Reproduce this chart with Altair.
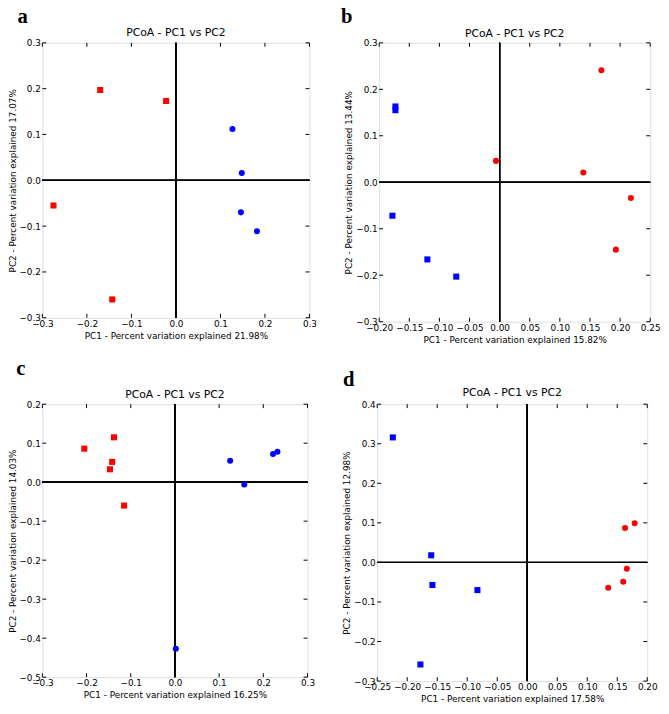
import altair as alt
import pandas as pd

# ---------------- data ----------------
a_sq_x = [-0.170, -0.022, -0.275, -0.143]
a_sq_y = [0.197, 0.173, -0.055, -0.260]
a_ci_x = [0.127, 0.148, 0.146, 0.182]
a_ci_y = [0.112, 0.016, -0.070, -0.111]

b_sq_x = [-0.173, -0.173, -0.178, -0.120, -0.072]
b_sq_y = [0.163, 0.155, -0.072, -0.166, -0.203]
b_ci_x = [-0.006, 0.139, 0.169, 0.218, 0.193]
b_ci_y = [0.046, 0.021, 0.241, -0.034, -0.145]

c_sq_x = [-0.205, -0.138, -0.142, -0.147, -0.115]
c_sq_y = [0.086, 0.115, 0.052, 0.033, -0.060]
c_ci_x = [0.125, 0.157, 0.222, 0.232, 0.002]
c_ci_y = [0.055, -0.006, 0.072, 0.078, -0.427]

d_sq_x = [-0.224, -0.160, -0.158, -0.083, -0.178]
d_sq_y = [0.316, 0.018, -0.057, -0.070, -0.258]
d_ci_x = [0.163, 0.179, 0.166, 0.160, 0.135]
d_ci_y = [0.087, 0.099, -0.016, -0.049, -0.064]

a_xticks = [-0.3, -0.2, -0.1, 0.0, 0.1, 0.2, 0.3]
a_yticks = [-0.3, -0.2, -0.1, 0.0, 0.1, 0.2, 0.3]
b_xticks = [-0.20, -0.15, -0.10, -0.05, 0.00, 0.05, 0.10, 0.15, 0.20, 0.25]
b_yticks = [-0.3, -0.2, -0.1, 0.0, 0.1, 0.2, 0.3]
c_xticks = [-0.3, -0.2, -0.1, 0.0, 0.1, 0.2, 0.3]
c_yticks = [-0.5, -0.4, -0.3, -0.2, -0.1, 0.0, 0.1, 0.2]
d_xticks = [-0.25, -0.20, -0.15, -0.10, -0.05, 0.00, 0.05, 0.10, 0.15, 0.20]
d_yticks = [-0.3, -0.2, -0.1, 0.0, 0.1, 0.2, 0.3, 0.4]

panel_title = "PCoA - PC1 vs PC2"
xtitles = {"a": "PC1 - Percent variation explained 21.98%",
           "b": "PC1 - Percent variation explained 15.82%",
           "c": "PC1 - Percent variation explained 16.25%",
           "d": "PC1 - Percent variation explained 17.58%"}
ytitles = {"a": "PC2 - Percent variation explained 17.07%",
           "b": "PC2 - Percent variation explained 13.44%",
           "c": "PC2 - Percent variation explained 14.03%",
           "d": "PC2 - Percent variation explained 12.98%"}

RED = "#ff0000"
BLUE = "#0000ff"
FONT = "DejaVu Sans"


def panel(letter, sq_x, sq_y, sq_col, ci_x, ci_y, ci_col, xt, yt, xfmt, yfmt,
          W, H, lx, ly, ty):
    xs = alt.Scale(domain=[xt[0], xt[-1]], nice=False, zero=False)
    ys = alt.Scale(domain=[yt[0], yt[-1]], nice=False, zero=False)
    common = dict(grid=False, domain=False, ticks=False, labelFontSize=9,
                  labelFont=FONT, labelColor="black", titleFont=FONT,
                  titleFontSize=9, titleFontWeight="normal", titleColor="black",
                  labelFlush=False, labelOverlap=False, labelBound=False)
    xax = alt.Axis(values=xt, format=xfmt, title=xtitles[letter],
                   labelPadding=2, titlePadding=3, **common)
    yax = alt.Axis(values=yt, format=yfmt, title=ytitles[letter],
                   labelPadding=2, titlePadding=2, **common)

    sq = pd.DataFrame({"x": sq_x, "y": sq_y})
    ci = pd.DataFrame({"x": ci_x, "y": ci_y})
    xtd = pd.DataFrame({"t": xt})
    ytd = pd.DataFrame({"t": yt})

    base_sq = alt.Chart(sq).mark_square(size=38, color=sq_col, opacity=1).encode(
        x=alt.X("x:Q", scale=xs, axis=xax), y=alt.Y("y:Q", scale=ys, axis=yax))
    base_ci = alt.Chart(ci).mark_circle(size=38, color=ci_col, opacity=1).encode(
        x=alt.X("x:Q", scale=xs, axis=xax), y=alt.Y("y:Q", scale=ys, axis=yax))

    zx = alt.Chart(xtd).mark_rule(color="black", strokeWidth=1).encode(
        x=alt.XDatum(0, scale=xs, axis=xax), y=alt.value(0), y2=alt.value(H))
    zy = alt.Chart(ytd).mark_rule(color="black", strokeWidth=1).encode(
        y=alt.YDatum(0, scale=ys, axis=yax), x=alt.value(0), x2=alt.value(W))

    tb = alt.Chart(xtd).mark_rule(color="black").encode(
        x=alt.X("t:Q", scale=xs, axis=xax), y=alt.value(H), y2=alt.value(H - 4))
    tt = alt.Chart(xtd).mark_rule(color="black").encode(
        x=alt.X("t:Q", scale=xs, axis=xax), y=alt.value(0), y2=alt.value(4))
    tl = alt.Chart(ytd).mark_rule(color="black").encode(
        y=alt.Y("t:Q", scale=ys, axis=yax), x=alt.value(0), x2=alt.value(4))
    tr = alt.Chart(ytd).mark_rule(color="black").encode(
        y=alt.Y("t:Q", scale=ys, axis=yax), x=alt.value(W), x2=alt.value(W - 4))

    lab = alt.Chart(pd.DataFrame({"l": [letter]})).mark_text(
        font="Liberation Serif", fontSize=21, fontWeight="bold", color="black",
        align="center", baseline="alphabetic").encode(
        text="l:N", x=alt.value(lx), y=alt.value(ly))

    ttl = alt.Chart(pd.DataFrame({"l": [panel_title]})).mark_text(
        font=FONT, fontSize=11, color="black", align="center",
        baseline="middle").encode(
        text="l:N", x=alt.value(W / 2), y=alt.value(ty))

    return alt.layer(zx, zy, tb, tt, tl, tr, base_sq, base_ci, lab,
                     ttl).properties(width=W, height=H)


pa = panel("a", a_sq_x, a_sq_y, RED, a_ci_x, a_ci_y, BLUE, a_xticks, a_yticks,
           ".1f", ".1f", 272, 280, -20, -20, -10)
pb = panel("b", b_sq_x, b_sq_y, BLUE, b_ci_x, b_ci_y, RED, b_xticks, b_yticks,
           ".2f", ".1f", 276, 284, -33, -20, -9)
pc = panel("c", c_sq_x, c_sq_y, RED, c_ci_x, c_ci_y, BLUE, c_xticks, c_yticks,
           ".1f", ".1f", 270, 278, -22, -30, -9)
pd_ = panel("d", d_sq_x, d_sq_y, BLUE, d_ci_x, d_ci_y, RED, d_xticks, d_yticks,
            ".2f", ".1f", 275, 282, -29, -19, -11)

chart = alt.vconcat(
    alt.hconcat(pa, pb, spacing=23),
    alt.hconcat(pc, pd_, spacing=27),
    spacing=12,
).configure_view(stroke="black", strokeWidth=1).configure(
    background="white",
    padding={"left": -1, "top": -9, "right": 0, "bottom": 0})

chart.save("out.html", embed_options={"renderer": "svg", "actions": False})
